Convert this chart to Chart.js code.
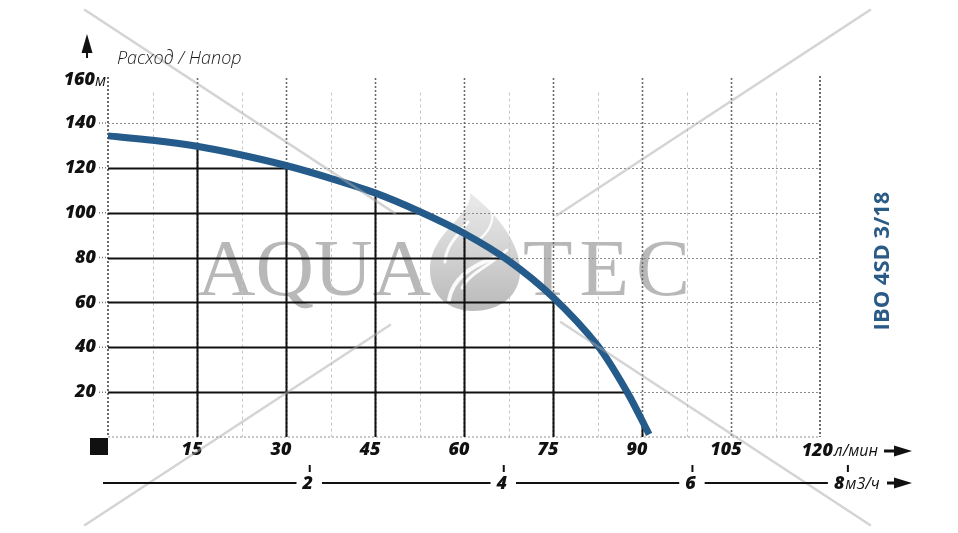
<!DOCTYPE html>
<html>
<head>
<meta charset="utf-8">
<title>IBO 4SD 3/18</title>
<script src="https://cdn.jsdelivr.net/npm/chart.js"></script>
<style>
    html, body {margin: 0; padding: 0; background: #fff;}
    #wrap {width: 958px; height: 533px;}
</style>
</head>
<body>
<div id="wrap"><canvas id="chart" width="958" height="533"></canvas></div>
<script>
// Q, л/мин
var flow = [0, 7.5, 15, 22.5, 30, 37.5, 45, 52.5, 60, 67.5, 75, 82.5, 87.5, 91.2];
// H, м
var head = [134.2, 132.3, 129.6, 125.7, 121, 115.3, 108.8, 100.5, 90.8, 78.6, 62.3, 40.8, 20, 1.2];

var flowTicks = [15, 30, 45, 60, 75, 90, 105];
var headTicks = [20, 40, 60, 80, 100, 120, 140];
// second (m3/h) axis in l/min positions
var m3hTicks = ['2', '4', '6', '8'];
var m3hAt = [34, 66.7, 98.5, 124.7];

var BOLD = 'italic 800 18px "Open Sans", sans-serif';
var UNIT = 'italic 16px "Open Sans", sans-serif';
var BLUE = '#245b8a';

function seg(c, x1, y1, x2, y2) {
    c.beginPath(); c.moveTo(x1, y1); c.lineTo(x2, y2); c.stroke();
}

function drawLogo(c) {
    c.save();
    c.globalAlpha = 0.8;
    var g = c.createLinearGradient(0, 193, 0, 311);
    g.addColorStop(0, '#e6e6e6');
    g.addColorStop(1, '#a9a9a9');
    c.fillStyle = g;
    c.beginPath();
    c.moveTo(470, 193);
    c.bezierCurveTo(497, 214, 522, 244, 520, 274);
    c.bezierCurveTo(518, 299, 496, 311, 473, 311);
    c.bezierCurveTo(448, 311, 430, 295, 430, 270);
    c.bezierCurveTo(430, 246, 446, 232, 458, 218);
    c.bezierCurveTo(466, 209, 471, 201, 470, 193);
    c.closePath();
    c.fill();
    // white swooshes
    c.globalAlpha = 0.9;
    c.strokeStyle = '#fff';
    c.lineCap = 'round';
    c.lineWidth = 4;
    c.beginPath();
    c.moveTo(449, 300);
    c.bezierCurveTo(452, 280, 470, 266, 494, 258);
    c.stroke();
    c.lineWidth = 3;
    c.beginPath();
    c.moveTo(462, 288);
    c.bezierCurveTo(470, 272, 490, 266, 507, 250);
    c.stroke();
    c.beginPath();
    c.moveTo(445, 262);
    c.bezierCurveTo(446, 245, 458, 235, 468, 222);
    c.stroke();
    c.lineWidth = 2.5;
    c.beginPath();
    c.moveTo(478, 240);
    c.bezierCurveTo(490, 232, 494, 220, 492, 208);
    c.stroke();
    c.restore();
}

var gridPlugin = {
    id: 'pumpGrid',
    beforeDatasetsDraw: function(chart) {
        var c = chart.ctx, xs = chart.scales.x, ys = chart.scales.y, a = chart.chartArea;
        c.save();

        // watermark text + logo (under the grid)
        c.fillStyle = '#b8b8b8';
        c.font = '81px "Liberation Serif", serif';
        c.textBaseline = 'alphabetic';
        c.fillText('AQUA', 197, 295);
        var tx = 523;
        'TEC'.split('').forEach(function(ch) {
            c.fillText(ch, tx, 295);
            tx += c.measureText(ch).width + 7;
        });
        drawLogo(c);

        // minor verticals (light dashed)
        c.lineWidth = 1;
        c.strokeStyle = '#c6c6c6';
        c.setLineDash([3, 3]);
        flowTicks.concat([120]).forEach(function(v) {
            var x = Math.round(xs.getPixelForValue(v - 7.5)) + 0.5;
            seg(c, x, ys.getPixelForValue(153.5), x, a.bottom);
        });

        // horizontals (dotted)
        c.strokeStyle = '#8c8c8c';
        c.setLineDash([2, 2]);
        headTicks.forEach(function(v) {
            var y = Math.round(ys.getPixelForValue(v)) + 0.5;
            seg(c, a.left, y, a.right, y);
        });
        // bottom line
        c.strokeStyle = '#b5b5b5';
        c.lineWidth = 1.5;
        seg(c, a.left, a.bottom, a.right, a.bottom);

        // major verticals (dark dotted)
        c.strokeStyle = '#6a6a6a';
        c.lineWidth = 1.6;
        flowTicks.forEach(function(v) {
            var x = Math.round(xs.getPixelForValue(v)) + 0.5;
            seg(c, x, a.top, x, a.bottom);
        });
        c.lineWidth = 2;
        seg(c, a.left, a.top - 1, a.left, a.bottom);
        seg(c, a.right, a.top - 2, a.right, a.bottom);

        // y tick dots
        c.lineWidth = 1.5;
        c.setLineDash([1, 2]);
        c.strokeStyle = '#777';
        headTicks.forEach(function(v) {
            var y = ys.getPixelForValue(v);
            seg(c, a.left - 9, y, a.left - 2, y);
        });

        // solid black grid under the curve
        var meta = chart.getDatasetMeta(0);
        var pts = meta.data;
        c.setLineDash([]);
        c.save();
        c.beginPath();
        if (meta.dataset && meta.dataset.path) {
            meta.dataset.updateControlPoints(a, 'x');
            meta.dataset.path(c);
        } else {
            pts.forEach(function(p, i) { if (i) c.lineTo(p.x, p.y); else c.moveTo(p.x, p.y); });
        }
        c.lineTo(pts[pts.length - 1].x, a.bottom);
        c.lineTo(pts[0].x, a.bottom);
        c.closePath();
        c.clip();
        c.strokeStyle = '#111';
        c.lineWidth = 2;
        headTicks.forEach(function(v) {
            var y = Math.round(ys.getPixelForValue(v)) + 0.5;
            seg(c, a.left, y, a.right, y);
        });
        flowTicks.forEach(function(v) {
            var x = Math.round(xs.getPixelForValue(v)) + 0.5;
            seg(c, x, a.top, x, a.bottom);
        });
        c.restore();
        c.restore();
    }
};

var decoPlugin = {
    id: 'pumpDeco',
    afterDraw: function(chart) {
        var c = chart.ctx, xs = chart.scales.x, ys = chart.scales.y, a = chart.chartArea;
        c.save();

        // watermark diagonals
        c.strokeStyle = 'rgba(170,170,170,0.5)';
        c.lineWidth = 2.5;
        c.lineCap = 'round';
        seg(c, 85, 10, 395, 213.4);
        seg(c, 561, 322.3, 870, 525);
        seg(c, 870, 10, 557, 215.3);
        seg(c, 390, 325, 85, 525);
        c.lineCap = 'butt';

        c.fillStyle = '#111';
        c.strokeStyle = '#111';

        // up arrow + title
        c.beginPath();
        c.moveTo(87, 34); c.lineTo(92.5, 53); c.lineTo(81.5, 53); c.closePath(); c.fill();
        c.fillRect(86, 52, 2, 6);
        c.font = 'italic 300 18px "Open Sans", sans-serif';
        c.fillStyle = '#1a1a1a';
        c.textAlign = 'left';
        c.textBaseline = 'alphabetic';
        c.fillText('Расход / Напор', 117, 64);

        // 160 м
        c.fillStyle = '#111';
        c.font = BOLD;
        c.textAlign = 'right';
        c.textBaseline = 'middle';
        var y160 = ys.getPixelForValue(160) + 2;
        c.fillText('160', 95, y160);
        c.font = UNIT;
        c.textAlign = 'left';
        c.fillText('м', 95, y160 + 1);

        // origin square
        c.fillRect(90, 438, 18, 17);

        // 120 л/мин + arrow
        var yx = 451;
        c.font = BOLD;
        c.textAlign = 'right';
        c.fillText('120', 833, yx);
        c.font = UNIT;
        c.textAlign = 'left';
        c.fillText('л/мин', 834, yx);
        c.fillRect(884, yx - 1.5, 12, 3);
        c.beginPath();
        c.moveTo(894, yx - 5.5); c.lineTo(912, yx); c.lineTo(894, yx + 5.5); c.closePath(); c.fill();

        // m3/h axis
        var yl = 483;
        var x0 = 103;
        c.lineWidth = 2;
        m3hTicks.forEach(function(t, i) {
            var xt = xs.getPixelForValue(m3hAt[i]);
            c.font = BOLD;
            var w = c.measureText(t).width;
            var lx = (i === m3hTicks.length - 1) ? xt - 14 : xt - 2 - w / 2;
            seg(c, x0, yl, lx - 6, yl);
            c.textAlign = 'left';
            c.fillText(t, lx, yl + 1);
            c.fillRect(xt - 1, 465, 2, 7);
            x0 = lx + w + 9;
            if (i === m3hTicks.length - 1) {
                c.font = UNIT;
                c.fillText('м3/ч', lx + w + 1, yl + 1);
            }
        });
        c.fillRect(887, yl - 1.5, 9, 3);
        c.beginPath();
        c.moveTo(894, yl - 5.5); c.lineTo(912, yl); c.lineTo(894, yl + 5.5); c.closePath(); c.fill();

        // model label
        c.save();
        c.translate(883, 261);
        c.rotate(-Math.PI / 2);
        c.fillStyle = '#2a5a86';
        c.font = 'bold 22px "Open Sans", sans-serif';
        c.textAlign = 'center';
        c.textBaseline = 'middle';
        c.fillText('IBO 4SD 3/18', 0, 0);
        c.restore();

        c.restore();
    }
};

var ctx = document.getElementById('chart').getContext('2d');
var chart = new Chart(ctx, {
    type: 'scatter',
    data: {
        datasets: [{
            label: 'IBO 4SD 3/18',
            data: flow.map(function(q, i) { return {x: q, y: head[i]}; }),
            showLine: true,
            borderColor: BLUE,
            borderWidth: 7,
            borderCapStyle: 'butt',
            pointRadius: 0,
            tension: 0.3,
            clip: false
        }]
    },
    options: {
        responsive: false,
        animation: false,
        layout: {padding: {left: 0, right: 138, top: 78, bottom: 66}},
        plugins: {
            legend: {display: false},
            tooltip: {enabled: false}
        },
        scales: {
            x: {
                type: 'linear',
                min: 0,
                max: 120,
                afterBuildTicks: function(s) { s.ticks = flowTicks.map(function(v) { return {value: v}; }); },
                afterFit: function(s) { s.height = 30; },
                grid: {display: false, drawTicks: false},
                border: {display: false},
                ticks: {
                    color: '#111',
                    font: {family: '"Open Sans", sans-serif', size: 18, style: 'italic', weight: '800'},
                    labelOffset: -5,
                    padding: 2,
                    maxRotation: 0,
                    autoSkip: false
                }
            },
            y: {
                type: 'linear',
                min: 0,
                max: 160,
                afterBuildTicks: function(s) { s.ticks = headTicks.map(function(v) { return {value: v}; }); },
                afterFit: function(s) { s.width = 108; },
                grid: {display: false, drawTicks: false},
                border: {display: false},
                ticks: {
                    color: '#111',
                    font: {family: '"Open Sans", sans-serif', size: 18, style: 'italic', weight: '800'},
                    padding: 12,
                    autoSkip: false
                }
            }
        }
    },
    plugins: [gridPlugin, decoPlugin]
});
</script>
</body>
</html>
